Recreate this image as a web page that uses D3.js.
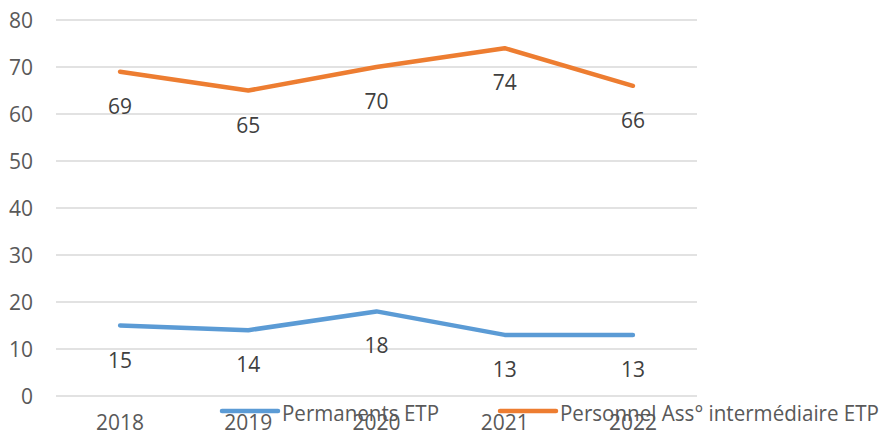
<!DOCTYPE html>
<html lang="fr">
<head>
<meta charset="UTF-8">
<title>ETP</title>
<style>
  body { margin: 0; background: #fff; }
  svg text { font-family: "Open Sans", "Liberation Sans", Arial, sans-serif; fill: #595959; }
</style>
</head>
<body>
<svg id="chart" width="885" height="436"></svg>
<script src="https://d3js.org/d3.v7.min.js"></script>
<script>
const years = ['2018', '2019', '2020', '2021', '2022'];
const permanents = [15, 14, 18, 13, 13];
const personnel = [69, 65, 70, 74, 66];
const yTicks = [0, 10, 20, 30, 40, 50, 60, 70, 80];
const seriesNames = ['Permanents ETP', 'Personnel Ass° intermédiaire ETP'];

const svg = d3.select('#chart');
const plotLeft = 56, plotRight = 697, plotTop = 20, plotBottom = 396;

const x = d3.scaleBand().domain(years).range([plotLeft, plotRight]);
const y = d3.scaleLinear().domain([0, 80]).range([plotBottom, plotTop]);

// gridlines
svg.append('g').selectAll('line')
  .data(yTicks).enter().append('line')
  .attr('x1', plotLeft).attr('x2', plotRight)
  .attr('y1', d => y(d)).attr('y2', d => y(d))
  .attr('stroke', '#d9d9d9').attr('stroke-width', 1.3);

// y labels
svg.append('g').selectAll('text')
  .data(yTicks).enter().append('text')
  .attr('x', 33).attr('y', d => y(d) + 8)
  .attr('text-anchor', 'end')
  .attr('font-size', 21)
  .text(d => d);

// x labels
svg.append('g').selectAll('text')
  .data(years).enter().append('text')
  .attr('x', d => x(d) + x.bandwidth() / 2)
  .attr('y', 430)
  .attr('text-anchor', 'middle')
  .attr('font-size', 21)
  .text(d => d);

const line = d3.line()
  .x((d, i) => x(years[i]) + x.bandwidth() / 2)
  .y(d => y(d));

const series = [
  { name: seriesNames[0], values: permanents, color: '#5b9bd5' },
  { name: seriesNames[1], values: personnel, color: '#ed7d31' }
];

series.forEach(s => {
  svg.append('path')
    .datum(s.values)
    .attr('fill', 'none')
    .attr('stroke', s.color)
    .attr('stroke-width', 4.5)
    .attr('stroke-linecap', 'round')
    .attr('stroke-linejoin', 'round')
    .attr('d', line);

  svg.append('g').selectAll('text')
    .data(s.values).enter().append('text')
    .attr('x', (d, i) => x(years[i]) + x.bandwidth() / 2)
    .attr('y', d => y(d) + 42)
    .attr('text-anchor', 'middle')
    .attr('font-size', 21)
    .style('fill', '#404040')
    .text(d => d);
});

// legend
const legend = [
  { x1: 222, x2: 278, tx: 282, tw: 157 },
  { x1: 500, x2: 556, tx: 560, tw: 319 }
];
legend.forEach((l, i) => {
  svg.append('line')
    .attr('x1', l.x1).attr('x2', l.x2)
    .attr('y1', 411).attr('y2', 411)
    .attr('stroke', series[i].color)
    .attr('stroke-width', 4.5)
    .attr('stroke-linecap', 'round');
  svg.append('text')
    .attr('x', l.tx).attr('y', 421)
    .attr('font-size', 21)
    .attr('textLength', l.tw)
    .attr('lengthAdjust', 'spacingAndGlyphs')
    .text(series[i].name);
});
</script>
</body>
</html>
